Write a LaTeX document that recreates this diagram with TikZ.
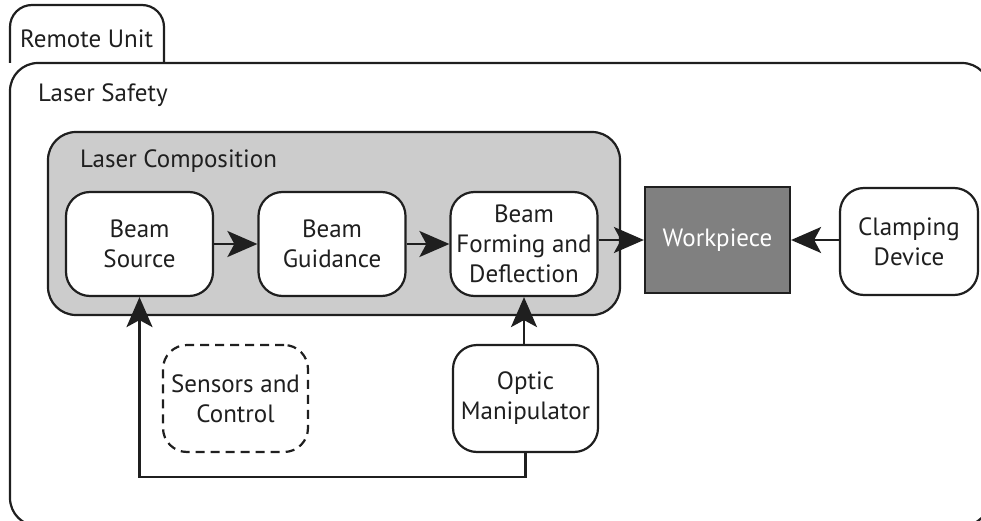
\documentclass[tikz,border=0pt]{standalone}
\usepackage{fontspec}
\setmainfont{PT Sans}
\usetikzlibrary{arrows.meta}

\begin{document}
\begin{tikzpicture}[x=1pt, y=-1pt,
  font=\fontsize{25}{30}\selectfont,
  ink/.style={line width=2.2pt, draw=black!88},
  block/.style={ink, rounded corners=24pt, fill=white, align=center,
    minimum width=147pt, minimum height=104pt, inner sep=0pt, text=black!88},
  dashblock/.style={block, dash pattern=on 9pt off 6pt},
  group/.style={ink, rounded corners=28pt, inner sep=0pt},
  caption/.style={anchor=base west, inner sep=0pt, text=black!88},
  arr/.style={ink, -{Stealth[length=30pt, width=26pt, inset=7pt]}}
]
\useasboundingbox (0,0) rectangle (981,521);
\clip (0,0) rectangle (981,521);

% Remote unit: tab and frame (frame runs past the page edge)
\draw[ink, rounded corners=22pt] (10,63) -- (10,5) -- (164,5) -- (164,63);
\node[group, minimum width=980pt, minimum height=463pt] (safety) at (500,294.5) {};
\node[caption] (remote) at (20,48) {Remote Unit};
\node[caption] (safetylbl) at (38,102) {Laser Safety};

% Laser composition group
\node[group, fill=black!20, minimum width=572pt, minimum height=183pt] (comp) at (334,223.5) {};
\node[caption] (complbl) at (80,168) {Laser Composition};

% Blocks
\node[block] (src)  at (139.5,244) {Beam\\Source};
\node[block] (guid) at (332,244)   {Beam\\Guidance};
\node[block] (form) at (524,244)   {Beam\\Forming and\\Deflection};
\node[block, rounded corners=0pt, fill=black!50, text=white!92,
      minimum width=145pt, minimum height=106pt] (work) at (717.5,240) {Workpiece};
\node[block, minimum width=138pt, minimum height=107pt] (clamp) at (909,241.5) {Clamping\\Device};
\node[dashblock, minimum width=145pt, minimum height=107pt] (sens) at (235.5,398.5) {Sensors and\\Control};
\node[block, minimum width=145pt, minimum height=107pt] (optic) at (525.5,398.5) {Optic\\Manipulator};

% Connectors
\draw[arr] (src) -- (guid);
\draw[arr] (guid) -- (form);
\draw[arr] (work.west -| form.east) -- (work.west);
\draw[arr] (work.east -| clamp.west) -- (work.east);
\draw[arr] (optic.north -| form.south) -- (form.south);
\draw[arr] (optic.south) -- ++(0,24) -| (src.south);
\end{tikzpicture}
\end{document}
